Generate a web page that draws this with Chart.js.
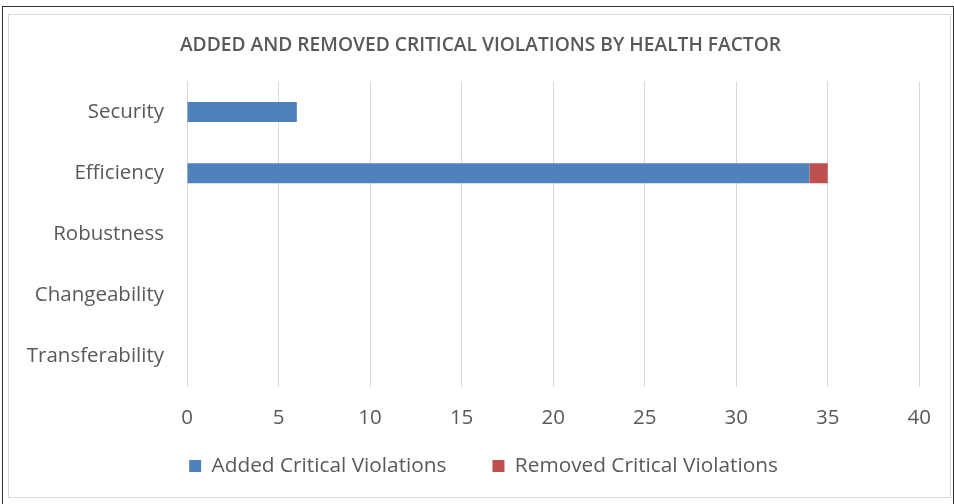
<!DOCTYPE html>
<html>
<head>
<meta charset="utf-8">
<script src="https://cdn.jsdelivr.net/npm/chart.js@4.4.1/dist/chart.umd.min.js"></script>
<style>
    html, body { margin: 0; padding: 0; background: #fff; }
    #outer { position: absolute; left: 2px; top: 6px; width: 950px; height: 510px; border: 1px solid #333; border-bottom: none; }
    #frame { position: absolute; left: 8px; top: 14px; width: 941px; height: 482px; border: 1px solid #d9d9d9; }
    #frame canvas { display: block; }
</style>
</head>
<body>
<div id="outer"></div>
<div id="frame"><canvas id="violations-chart" width="941" height="482"></canvas></div>
<script>
    const healthFactors = ['Security', 'Efficiency', 'Robustness', 'Changeability', 'Transferability'];
    const addedViolations = [6, 34, 0, 0, 0];
    const removedViolations = [0, 1, 0, 0, 0];
    const xTicks = [0, 5, 10, 15, 20, 25, 30, 35, 40];

    // wide gap between legend items, but the legend itself stays short
    const legendPlacement = {
        id: 'legendPlacement',
        beforeLayout(chart) {
            const legend = chart.legend;
            if (!legend || legend._fitPatched) {
                return;
            }
            const baseFit = legend.fit;
            legend.fit = function() {
                baseFit.call(this);
                this.height = 40;
            };
            legend._fitPatched = true;
        },
        afterLayout(chart) {
            const legend = chart.legend;
            legend.top -= 40;
            legend.left += 14;
            legend.right += 14;
            // title centred on the whole frame, not on the padded area
            if (chart.titleBlock) {
                chart.titleBlock.left += 11;
                chart.titleBlock.right += 11;
            }
        }
    };

    function renderChart(){
        const ctx = document.getElementById('violations-chart');
        if (!ctx) {
            return;
        }
        Chart.defaults.font.family = '"Open Sans", sans-serif';
        Chart.defaults.color = '#595959';

        new Chart(ctx, {
            type: 'bar',
            data: {
                labels: healthFactors,
                datasets: [{
                    label: 'Added Critical Violations',
                    data: addedViolations,
                    backgroundColor: '#4f81bd'
                }, {
                    label: 'Removed Critical Violations',
                    data: removedViolations,
                    backgroundColor: '#c0504d'
                }]
            },
            plugins: [legendPlacement],
            options: {
                indexAxis: 'y',
                responsive: false,
                animation: false,
                barThickness: 20,
                inflateAmount: 0,
                layout: {
                    padding: { left: 10, right: 30, top: 19, bottom: 7.5 }
                },
                plugins: {
                    title: {
                        display: true,
                        text: 'ADDED AND REMOVED CRITICAL VIOLATIONS BY HEALTH FACTOR',
                        color: '#595959',
                        font: { size: 19.2, weight: '600' },
                        padding: { top: 0, bottom: 24.5 }
                    },
                    legend: {
                        position: 'bottom',
                        labels: {
                            boxWidth: 12,
                            boxHeight: 12,
                            padding: 46,
                            font: { size: 20.8 },
                            color: '#595959'
                        }
                    },
                    tooltip: { enabled: false }
                },
                scales: {
                    x: {
                        stacked: true,
                        min: 0,
                        max: 40,
                        afterBuildTicks: scale => {
                            scale.ticks = xTicks.map(v => ({ value: v }));
                        },
                        grid: { color: '#d9d9d9', drawTicks: false },
                        border: { display: false },
                        ticks: { padding: 19, font: { size: 20.5 }, color: '#595959' }
                    },
                    y: {
                        stacked: true,
                        grid: { display: false },
                        border: { display: false },
                        afterFit: scale => { scale.width = 168; },
                        ticks: { padding: 15, font: { size: 20.5 }, color: '#595959' }
                    }
                }
            }
        });
    }

    document.addEventListener('DOMContentLoaded', renderChart);
</script>
</body>
</html>
